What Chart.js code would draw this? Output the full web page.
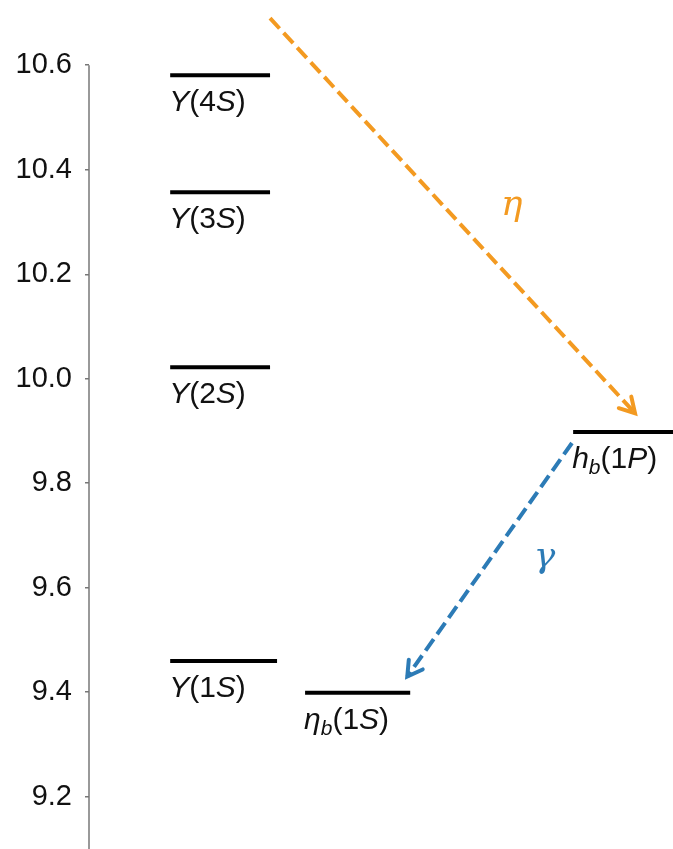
<!DOCTYPE html>
<html>
<head>
<meta charset="utf-8">
<script src="https://cdn.jsdelivr.net/npm/chart.js@4"></script>
<style>
  html, body { margin: 0; padding: 0; background: #fff; }
  #wrap { width: 673px; height: 849px; }
</style>
</head>
<body>
<div id="wrap"><canvas id="chart" width="673" height="849"></canvas></div>
<script>
// energy levels (GeV) and where each bar sits along the hidden x axis
const levelLabels = ['Υ(4S)', 'Υ(3S)', 'Υ(2S)', 'Υ(1S)', 'η_b(1S)', 'h_b(1P)'];
const levelMass = [10.581, 10.357, 10.022, 9.460, 9.399, 9.898];
const levelFrom = [1.39, 1.39, 1.39, 1.39, 3.70, 8.29];
const levelTo = [3.10, 3.10, 3.10, 3.22, 5.50, 10.0];

// transitions drawn as dashed arrows
const transLabels = ['η', 'γ'];
const transColors = ['#f39a21', '#2c7bb6'];
const transX0 = [3.10, 8.27];
const transY0 = [10.69, 9.877];
const transX1 = [9.35, 5.45];
const transY1 = [9.934, 9.430];
const transLabelX = [7.24, 7.80];
const transLabelY = [10.332, 9.657];

const yTicks = [9.2, 9.4, 9.6, 9.8, 10.0, 10.2, 10.4, 10.6];

const datasets = [];
levelLabels.forEach((name, i) => {
  datasets.push({
    label: name,
    data: [{ x: levelFrom[i], y: levelMass[i] }, { x: levelTo[i], y: levelMass[i] }],
    borderColor: '#000',
    borderWidth: 4,
    pointRadius: 0
  });
});
transLabels.forEach((name, i) => {
  datasets.push({
    label: name,
    data: [{ x: transX0[i], y: transY0[i] }, { x: transX1[i], y: transY1[i] }],
    borderColor: transColors[i],
    borderWidth: 4,
    borderDash: [14, 6],
    pointRadius: 0,
    isArrow: true
  });
});

// split "η_b(1S)" into pieces: letters italic, digits/parens upright, _x subscript
function segments(str) {
  const out = [];
  for (let i = 0; i < str.length; i++) {
    const c = str[i];
    if (c === '_') { out.push({ t: str[i + 1], it: true, sub: true }); i++; continue; }
    out.push({ t: c, it: /[A-Za-zΑ-ωΥη]/.test(c), sub: false });
  }
  return out;
}

const drawExtras = {
  id: 'drawExtras',
  afterDatasetsDraw(chart) {
    const ctx = chart.ctx;
    const xs = chart.scales.x, ys = chart.scales.y;
    const area = chart.chartArea;
    ctx.save();

    // left spine, starting at the top tick
    ctx.strokeStyle = '#777';
    ctx.lineWidth = 1.5;
    ctx.beginPath();
    ctx.moveTo(area.left, ys.getPixelForValue(10.6));
    ctx.lineTo(area.left, area.bottom);
    ctx.stroke();

    // level names under each bar
    ctx.fillStyle = '#111';
    ctx.textBaseline = 'alphabetic';
    ctx.textAlign = 'left';
    levelLabels.forEach((name, i) => {
      let x = xs.getPixelForValue(levelFrom[i]) - 1;
      const base = ys.getPixelForValue(levelMass[i]) + 36;
      segments(name).forEach(s => {
        const size = s.sub ? 21 : 30;
        ctx.font = (s.it ? 'italic ' : '') + size + 'px "Liberation Sans", Arial, sans-serif';
        ctx.fillText(s.t, x, base + (s.sub ? 6 : 0));
        x += ctx.measureText(s.t).width;
      });
    });

    // arrow heads and transition symbols
    chart.data.datasets.forEach((ds, di) => {
      if (!ds.isArrow) return;
      const pts = chart.getDatasetMeta(di).data;
      const a = pts[0], b = pts[1];
      const ang = Math.atan2(b.y - a.y, b.x - a.x);
      const len = 17, spread = Math.PI / 6;
      ctx.strokeStyle = ds.borderColor;
      ctx.lineWidth = 4;
      ctx.lineCap = 'round';
      ctx.beginPath();
      ctx.moveTo(b.x - len * Math.cos(ang - spread), b.y - len * Math.sin(ang - spread));
      ctx.lineTo(b.x, b.y);
      ctx.lineTo(b.x - len * Math.cos(ang + spread), b.y - len * Math.sin(ang + spread));
      ctx.stroke();
    });
    transLabels.forEach((name, i) => {
      ctx.fillStyle = transColors[i];
      ctx.font = 'italic 36px "DejaVu Serif", serif';
      ctx.textAlign = 'center';
      ctx.textBaseline = 'middle';
      ctx.fillText(name, xs.getPixelForValue(transLabelX[i]), ys.getPixelForValue(transLabelY[i]));
    });
    ctx.restore();
  }
};

new Chart(document.getElementById('chart'), {
  type: 'line',
  data: { datasets },
  options: {
    responsive: false,
    animation: false,
    layout: { padding: { top: 13, right: 0, bottom: 0, left: 0 } },
    plugins: { legend: { display: false }, tooltip: { enabled: false } },
    scales: {
      x: { type: 'linear', min: 0, max: 10, display: false },
      y: {
        type: 'linear',
        min: 9.1,
        max: 10.7,
        afterFit: s => { s.width = 89; s.paddingTop = 0; s.paddingBottom = 0; },
        afterBuildTicks: s => { s.ticks = yTicks.map(v => ({ value: v })); },
        border: { display: false },
        grid: { drawOnChartArea: false, drawTicks: true, tickLength: 4, color: '#777', lineWidth: 1.5 },
        ticks: {
          padding: 13,
          color: '#111',
          font: { family: '"Liberation Sans", Arial, sans-serif', size: 29 },
          callback: v => v.toFixed(1)
        }
      }
    }
  },
  plugins: [drawExtras]
});
</script>
</body>
</html>
